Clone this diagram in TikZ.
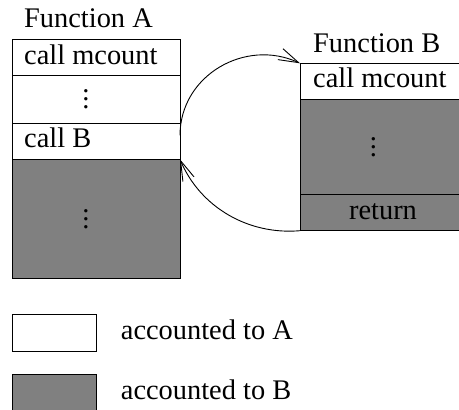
\documentclass[tikz,border=0pt]{standalone}
\usepackage{fontspec}
\setmainfont{Liberation Serif}
\usetikzlibrary{arrows.meta}
\definecolor{accgray}{RGB}{128,128,128}
\newcommand\bigvdots{\vbox{\baselineskip8pt\lineskiplimit0pt\hbox{.}\hbox{.}\hbox{.}}}
\begin{document}
\begin{tikzpicture}[x=1pt,y=1pt,
  font=\fontsize{28.4pt}{34pt}\selectfont,
  row/.style={draw=black, line width=1pt, inner sep=0pt, outer sep=0pt, anchor=north west},
  whiterow/.style={row, fill=white},
  grayrow/.style={row, fill=accgray},
  lbl/.style={inner sep=0pt, anchor=base west},
  dotlbl/.style={inner sep=0pt, anchor=center},
  callarrow/.style={line width=0.9pt, -{Straight Barb[length=20pt,width=12pt,line width=0.9pt]}}
]
\useasboundingbox (0,0) rectangle (459,410);
% Function A
\node[lbl] (fa) at (24,382) {Function A};
\node[whiterow, minimum width=167.3, minimum height=35.7] (a1) at (12.7,370) {};
\node[whiterow, minimum width=167.3, minimum height=48] (a2) at (a1.south west) {};
\node[whiterow, minimum width=167.3, minimum height=35.6] (a3) at (a2.south west) {};
\node[grayrow, minimum width=167.3, minimum height=119.7] (a4) at (a3.south west) {};
\node[lbl] (ta1) at (24,345) {call mcount};
\node[dotlbl] (ta2) at (86,311) {\bigvdots};
\node[lbl] (ta3) at (24,262) {call B};
\node[dotlbl] (ta4) at (86,191) {\bigvdots};
% Function B
\node[lbl] (fb) at (313,357.7) {Function B};
\node[whiterow, minimum width=166, minimum height=36] (b1) at (300,346.7) {};
\node[grayrow, minimum width=166, minimum height=95.7] (b2) at (b1.south west) {};
\node[grayrow, minimum width=166, minimum height=35.7] (b3) at (b2.south west) {};
\node[lbl] (tb1) at (313,322) {call mcount};
\node[dotlbl] (tb2) at (373.3,263) {\bigvdots};
\node[inner sep=0pt, anchor=base] (tb3) at (383,190) {return};
% connectors
\coordinate (callout) at ([yshift=6pt]a3.east);
\draw[callarrow] (callout) to[out=90, in=155, looseness=1.1] (b1.north west);
\draw[callarrow] (b3.south west) to[out=185, in=-67, looseness=0.95] (a3.south east);
% legend
\node[whiterow, minimum width=84, minimum height=36.7] (la) at (12,95) {};
\node[grayrow, minimum width=84, minimum height=36.7] (lb) at (12,35) {};
\node[lbl] (tla) at (120.7,70) {accounted to A};
\node[lbl] (tlb) at (120.7,10) {accounted to B};
\end{tikzpicture}
\end{document}
